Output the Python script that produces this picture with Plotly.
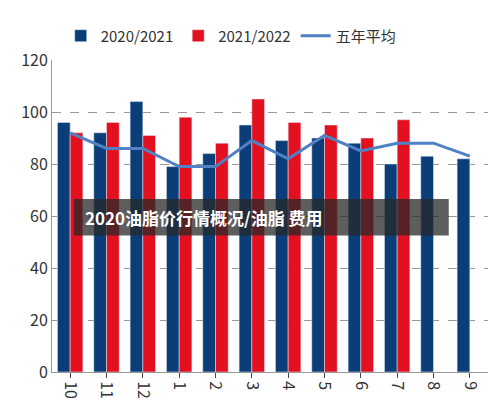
import plotly.graph_objects as go

months = ["10", "11", "12", "1", "2", "3", "4", "5", "6", "7", "8", "9"]
s2020 = [96, 92, 104, 79, 84, 95, 89, 90, 88, 80, 83, 82]
s2021 = [92, 96, 91, 98, 88, 105, 96, 95, 90, 97, None, None]
avg5 = [92, 86, 86, 79, 79, 89, 82, 91, 85, 88, 88, 83]

fig = go.Figure()
fig.add_bar(x=months, y=s2020, name="2020/2021", marker_color="#0b3e78")
fig.add_bar(x=months, y=s2021, name="2021/2022", marker_color="#e3101f")
fig.add_scatter(x=months, y=avg5, name="五年平均", mode="lines",
                line=dict(color="#4f81c4", width=3))

fig.add_shape(type="rect", xref="paper", yref="y", x0=0.05, x1=0.91, y0=52.5, y1=66.5,
              fillcolor="rgba(40,40,40,0.75)", line_width=0, layer="above")
fig.add_annotation(xref="paper", yref="y", x=0.07, y=59.5, xanchor="left",
                   text="<b>2020油脂价行情概况/油脂 费用</b>", showarrow=False,
                   font=dict(color="white", size=17, family="Noto Sans CJK SC"))

fig.update_layout(
    width=500, height=414, barmode="group", bargap=0.3, bargroupgap=0,
    plot_bgcolor="white", paper_bgcolor="white",
    margin=dict(l=44, r=20, t=44, b=50),
    font=dict(family="Noto Sans CJK SC", size=15, color="#333"),
    legend=dict(orientation="h", x=0.02, y=1.13, xanchor="left", yanchor="top",
                font=dict(size=15), traceorder="normal"),
    xaxis=dict(tickangle=90, showline=True, linecolor="#999", ticks="outside",
               tickfont=dict(size=16)),
    yaxis=dict(range=[0, 120], dtick=20, showgrid=True, gridcolor="#999",
               griddash="dash", zeroline=False, showline=True, linecolor="#999",
               tickfont=dict(size=16)),
)
fig.write_html("out.html")
